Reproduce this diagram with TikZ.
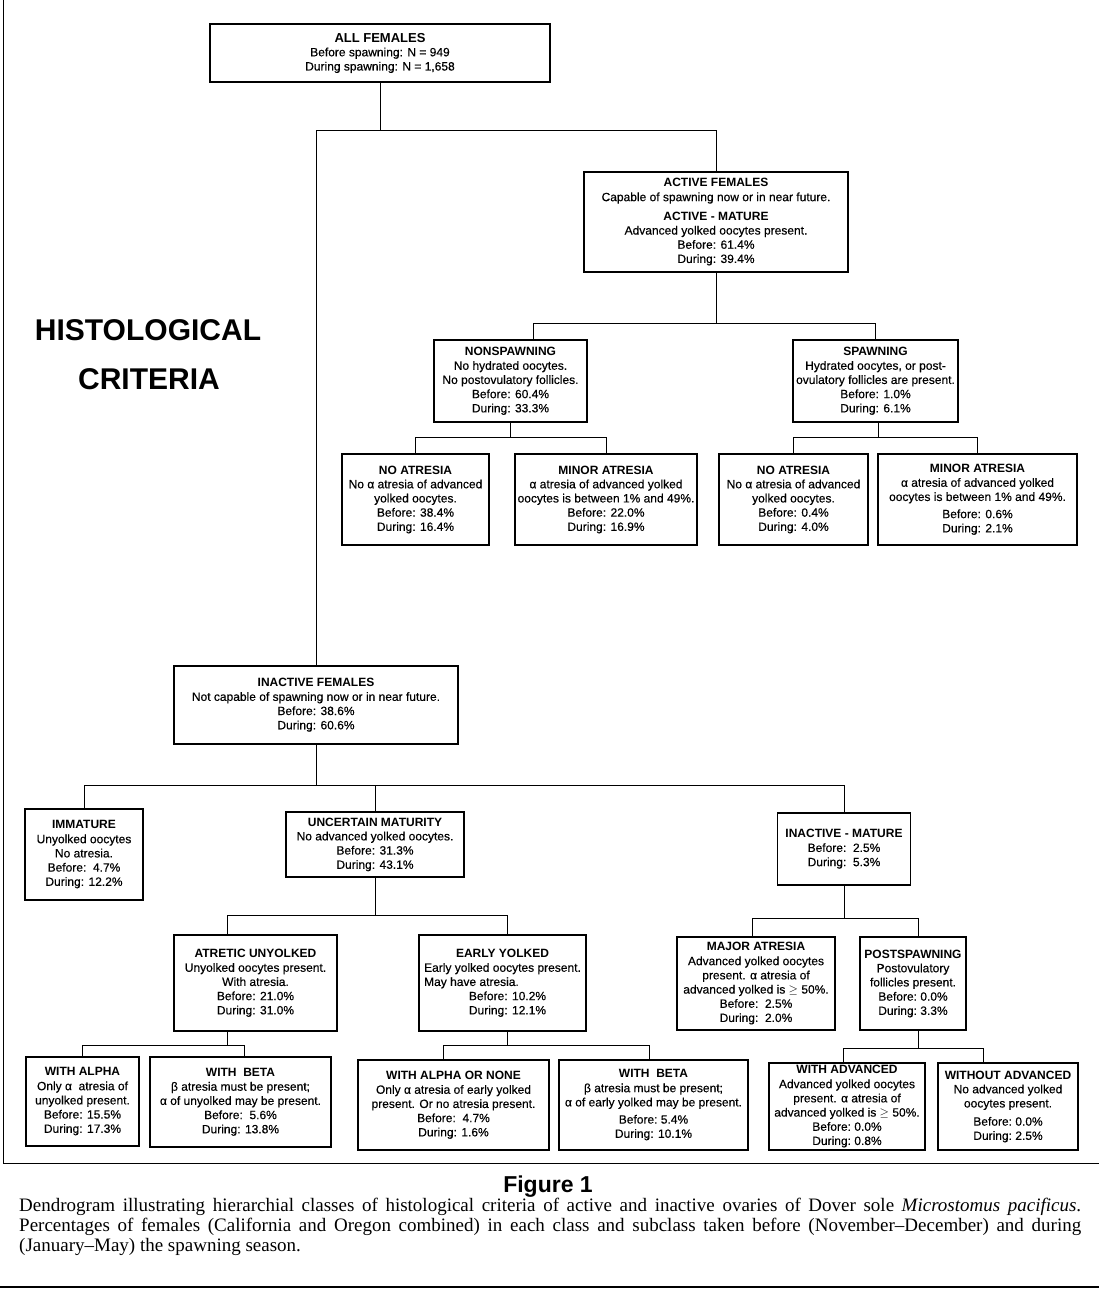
\documentclass[tikz,border=0pt]{standalone}
\usepackage{fontspec}
\setmainfont{Liberation Sans}[UprightFeatures={FakeBold=0.35}]
\newfontfamily\capfont{Liberation Serif}
\usetikzlibrary{calc}
\newcommand\boxfont{\fontsize{12}{14.2}\selectfont}
\newcommand\hd[1]{\textbf{#1}}
\tikzset{
  box/.style={draw, line width=1.3pt, align=center, inner sep=1pt, font=\boxfont},
  wire/.style={line width=0.9pt},
  bigtitle/.style={font=\fontsize{30}{31}\selectfont\bfseries, inner sep=0pt},
}
\begin{document}
\begin{tikzpicture}[x=1pt,y=-1pt]
\useasboundingbox (0,0) rectangle (1099,1296);
\fill[white] (0,0) rectangle (1099,1296);

% ---------- boxes ----------
\node[box, minimum width=340pt, minimum height=58pt] (all) at (380,53)
 {{\fontsize{13}{15}\selectfont\bfseries ALL FEMALES}\\ Before spawning: N = 949\\ During spawning: N = 1,658};
\node[box, minimum width=264pt, minimum height=100pt] (active) at (716,222)
 {\hd{ACTIVE FEMALES}\\ Capable of spawning now or in near future.\\[5pt] \hd{ACTIVE - MATURE}\\ Advanced yolked oocytes present.\\ Before: 61.4\%\\ During: 39.4\%};
\node[box, minimum width=153pt, minimum height=82pt] (nonsp) at (510.5,381)
 {\hd{NONSPAWNING}\\ No hydrated oocytes.\\ No postovulatory follicles.\\ Before: 60.4\%\\ During: 33.3\%};
\node[box, minimum width=165pt, minimum height=82pt] (sp) at (875.5,381)
 {\hd{SPAWNING}\\ Hydrated oocytes, or post-\\ ovulatory follicles are present.\\ Before: 1.0\%\\ During: 6.1\%};
\node[box, minimum width=147pt, minimum height=91pt] (noatrL) at (415.5,499.5)
 {\hd{NO ATRESIA}\\ No α atresia of advanced\\ yolked oocytes.\\ Before: 38.4\%\\ During: 16.4\%};
\node[box, minimum width=182pt, minimum height=91pt] (minorL) at (606,499.5)
 {\hd{MINOR ATRESIA}\\ α atresia of advanced yolked\\ oocytes is between 1\% and 49\%.\\ Before: 22.0\%\\ During: 16.9\%};
\node[box, minimum width=149pt, minimum height=91pt] (noatrR) at (793.5,499.5)
 {\hd{NO ATRESIA}\\ No α atresia of advanced\\ yolked oocytes.\\ Before: 0.4\%\\ During: 4.0\%};
\node[box, minimum width=199pt, minimum height=91pt] (minorR) at (977.5,499.5)
 {\hd{MINOR ATRESIA}\\ α atresia of advanced yolked\\ oocytes is between 1\% and 49\%.\\[3pt] Before: 0.6\%\\ During: 2.1\%};

\node[box, minimum width=284pt, minimum height=78pt] (inactive) at (316,705)
 {\hd{INACTIVE FEMALES}\\ Not capable of spawning now or in near future.\\ Before: 38.6\%\\ During: 60.6\%};
\node[box, minimum width=118pt, minimum height=91pt] (immature) at (84,854.5)
 {\hd{IMMATURE}\\ Unyolked oocytes\\ No atresia.\\ Before:\ \ 4.7\%\\ During: 12.2\%};
\node[box, minimum width=178pt, minimum height=65pt] (uncertain) at (375,844.5)
 {\hd{UNCERTAIN MATURITY}\\ No advanced yolked oocytes.\\ Before: 31.3\%\\ During: 43.1\%};
\node[box, minimum width=133pt, minimum height=72pt] (inmat) at (844,849)
 {\hd{INACTIVE - MATURE}\\ Before:\ \ 2.5\%\\ During:\ \ 5.3\%};

\node[box, minimum width=163pt, minimum height=96pt] (atretic) at (255.5,983)
 {\hd{ATRETIC UNYOLKED}\\ Unyolked oocytes present.\\ With atresia.\\ Before: 21.0\%\\ During: 31.0\%};
\node[box, minimum width=167pt, minimum height=96pt] (early) at (502.5,983)
 {\hd{EARLY YOLKED}\\ Early yolked oocytes present.\\ \rlap{May have atresia.}\phantom{Early yolked oocytes present.}\\ \ \ \ Before: 10.2\%\\ \ \ \ During: 12.1\%};
\node[box, minimum width=158pt, minimum height=93pt] (major) at (756,983.5)
 {\fontsize{12}{14}\selectfont\hd{MAJOR ATRESIA}\\ Advanced yolked oocytes\\ present. α\ atresia of\\ advanced yolked is $\geq$ 50\%.\\ Before:\ \ 2.5\%\\ During:\ \ 2.0\%};
\node[box, minimum width=106pt, minimum height=93pt] (postsp) at (913,983.5)
 {\hd{POSTSPAWNING}\\ Postovulatory\\ follicles present.\\ Before:\ 0.0\%\\ During:\ 3.3\%};

\node[box, minimum width=113pt, minimum height=89pt] (walpha) at (82.5,1101.5)
 {\hd{WITH ALPHA}\\ Only α\ \ atresia of\\ unyolked present.\\ Before: 15.5\%\\ During: 17.3\%};
\node[box, minimum width=181pt, minimum height=90pt] (wbetaL) at (240.5,1102)
 {\hd{WITH\ \ BETA}\\ β atresia must be present;\\ α\ of unyolked may be present.\\ Before:\ \ 5.6\%\\ During: 13.8\%};
\node[box, minimum width=191pt, minimum height=90pt] (walnone) at (453.5,1105)
 {\hd{WITH ALPHA OR NONE}\\ Only α\ atresia of early yolked\\ present. Or no atresia present.\\ Before:\ \ 4.7\%\\ During: 1.6\%};
\node[box, minimum width=189pt, minimum height=90pt] (wbetaR) at (653.5,1105)
 {\hd{WITH\ \ BETA}\\ β\ atresia must be present;\\ α\ of early yolked may be present.\\[3pt] Before:\ 5.4\%\\ During: 10.1\%};
\node[box, minimum width=156pt, minimum height=87pt] (wadv) at (847,1106.5)
 {\fontsize{12}{13.2}\selectfont\hd{WITH ADVANCED}\\ Advanced yolked oocytes\\ present. α\ atresia of\\ advanced yolked is $\geq$ 50\%.\\ Before:\ 0.0\%\\ During:\ 0.8\%};
\node[box, minimum width=140pt, minimum height=87pt] (woadv) at (1008,1106.5)
 {\hd{WITHOUT ADVANCED}\\ No advanced yolked\\ oocytes present.\\[4pt] Before:\ 0.0\%\\ During:\ 2.5\%};

% ---------- titles ----------
\node[bigtitle] (h1) at (148,330) {HISTOLOGICAL};
\node[bigtitle] (h2) at (149,379) {CRITERIA};

% ---------- connectors ----------
\coordinate (yA) at (0,130);
\coordinate (yB) at (0,323);
\coordinate (yC) at (0,437);
\coordinate (yD) at (0,785);
\coordinate (yE) at (0,915);
\coordinate (yF) at (0,918);
\coordinate (yG) at (0,1045);
\coordinate (yH) at (0,1048);

\draw[wire] (all.south) -- (all.south |- yA);
\draw[wire] (inactive.north) |- (yA -| active.north) -- (active.north);

\draw[wire] (active.south) -- (active.south |- yB);
\coordinate (nsTop) at ($(nonsp.north)+(22.5,0)$);
\draw[wire] (nsTop) |- (yB -| sp.north) -- (sp.north);

\draw[wire] (nonsp.south) -- (nonsp.south |- yC);
\draw[wire] (noatrL.north) |- (yC -| minorL.north) -- (minorL.north);
\coordinate (spBot) at ($(sp.south)+(2.5,0)$);
\draw[wire] (spBot) -- (spBot |- yC);
\draw[wire] (noatrR.north) |- (yC -| minorR.north) -- (minorR.north);

\draw[wire] (inactive.south) -- (inactive.south |- yD);
\draw[wire] (immature.north) |- (yD -| inmat.north) -- (inmat.north);
\draw[wire] (uncertain.north) -- (uncertain.north |- yD);

\coordinate (atTop) at ($(atretic.north)+(-28.5,0)$);
\coordinate (atBot) at ($(atretic.south)+(-28.5,0)$);
\coordinate (eaTop) at ($(early.north)+(4.5,0)$);
\coordinate (eaBot) at ($(early.south)+(4.5,0)$);
\draw[wire] (uncertain.south) -- (uncertain.south |- yE);
\draw[wire] (atTop) |- (yE -| eaTop) -- (eaTop);

\coordinate (maTop) at ($(major.north)+(-4,0)$);
\coordinate (psTop) at ($(postsp.north)+(5,0)$);
\coordinate (psBot) at ($(postsp.south)+(5,0)$);
\draw[wire] (inmat.south) -- (inmat.south |- yF);
\draw[wire] (maTop) |- (yF -| psTop) -- (psTop);

\coordinate (wbLTop) at ($(wbetaL.north)+(4,0)$);
\draw[wire] (atBot) -- (atBot |- yG);
\draw[wire] (walpha.north) |- (yG -| wbLTop) -- (wbLTop);

\coordinate (wanTop) at ($(walnone.north)+(-10,0)$);
\coordinate (wbRTop) at ($(wbetaR.north)+(-4.5,0)$);
\draw[wire] (eaBot) -- (eaBot |- yG);
\draw[wire] (wanTop) |- (yG -| wbRTop) -- (wbRTop);

\coordinate (wadvTop) at ($(wadv.north)+(-4,0)$);
\coordinate (woTop) at ($(woadv.north)+(-25,0)$);
\draw[wire] (psBot) -- (psBot |- yH);
\draw[wire] (wadvTop) |- (yH -| woTop) -- (woTop);

% ---------- frame & caption ----------
\coordinate (fTL) at (3,0);
\coordinate (fBL) at (3,1163);
\coordinate (fBR) at (1099,1163);
\draw[line width=1pt] (fTL) -- (fBL) -- (fBR);
\coordinate (rL) at (0,1287);
\coordinate (rR) at (1099,1287);
\draw[line width=1.2pt] (rL) -- (rR);

\node[font=\fontsize{23}{25}\selectfont\bfseries, inner sep=0pt] (fig) at (548,1187) {Figure 1};
\node[anchor=north west, text width=1062pt, align=justify, inner sep=0pt,
      font=\capfont\fontsize{19}{20}\selectfont] (cap) at (19,1198)
 {Dendrogram illustrating hierarchial classes of histological criteria of active and inactive ovaries of Dover sole \textit{Microstomus pacificus}.\linebreak
  Percentages of females (California and Oregon combined) in each class and subclass taken before (November–December) and during\linebreak
  (January–May) the spawning season.};
\end{tikzpicture}
\end{document}
